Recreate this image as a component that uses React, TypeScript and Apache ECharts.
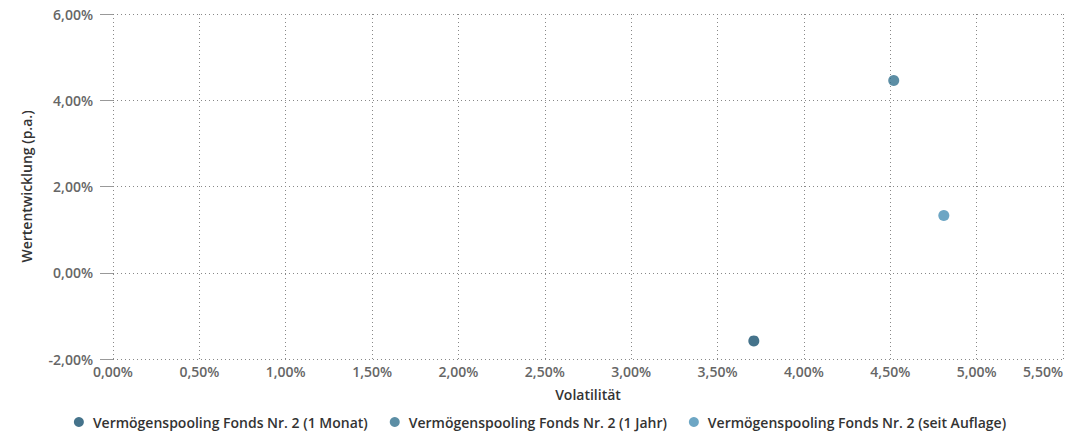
import React, { useEffect, useRef } from "react";
import * as echarts from "echarts";

const seriesNames = [
  "Vermögenspooling Fonds Nr. 2 (1 Monat)",
  "Vermögenspooling Fonds Nr. 2 (1 Jahr)",
  "Vermögenspooling Fonds Nr. 2 (seit Auflage)",
];
const volatility = [3.71, 4.52, 4.81];
const performance = [-1.58, 4.46, 1.33];
const colors = ["#17506e", "#33728f", "#4890b5"];

const fmt = (v: number) => v.toFixed(2).replace(".", ",") + "%";
const FONT = "Open Sans";

export default function App() {
  const ref = useRef<HTMLDivElement>(null);
  useEffect(() => {
    document.body.style.margin = "0";
    if (!ref.current) return;
    const chart = echarts.init(ref.current, undefined, { renderer: "svg" });
    chart.setOption({
      animation: false,
      textStyle: { fontFamily: FONT },
      grid: { left: 113, right: 17, top: 14, bottom: 78 },
      legend: {
        top: 410,
        left: "center",
        icon: "circle",
        itemWidth: 10,
        itemHeight: 10,
        itemGap: 22,
        textStyle: { fontFamily: FONT, fontSize: 14, fontWeight: 600, color: "#333", padding: [0, 0, 0, 4] },
        data: seriesNames,
      },
      xAxis: {
        type: "value",
        min: 0,
        max: 5.5,
        interval: 0.5,
        name: "Volatilität",
        nameLocation: "middle",
        nameGap: 28,
        nameTextStyle: { fontFamily: FONT, fontSize: 14, fontWeight: 600, color: "#333" },
        axisLine: { show: false },
        axisTick: { show: false },
        axisLabel: {
          formatter: (v: number) => fmt(v),
          color: "#666",
          fontSize: 14,
          fontWeight: 600,
          fontFamily: FONT,
          margin: 5,
          alignMaxLabel: "right",
        },
        splitLine: { show: true, lineStyle: { type: [1, 3], color: "#888", width: 1 } },
      },
      yAxis: {
        type: "value",
        min: -2,
        max: 6,
        interval: 2,
        name: "Wertentwicklung (p.a.)",
        nameLocation: "middle",
        nameRotate: 90,
        nameGap: 80,
        nameTextStyle: { fontFamily: FONT, fontSize: 14, fontWeight: 600, color: "#333" },
        axisLine: { show: false },
        axisTick: { show: true, length: 13, lineStyle: { color: "#999", width: 1 } },
        axisLabel: {
          formatter: (v: number) => fmt(v),
          color: "#666",
          fontSize: 14,
          fontWeight: 600,
          fontFamily: FONT,
          margin: 20,
          padding: [4, 0, 0, 0],
        },
        splitLine: { show: true, lineStyle: { type: [1, 3], color: "#888", width: 1 } },
      },
      series: seriesNames.map((name, i) => ({
        name,
        type: "scatter",
        symbol: "circle",
        symbolSize: 11,
        itemStyle: { color: colors[i] },
        data: [[volatility[i], performance[i]]],
      })),
    });
    return () => chart.dispose();
  }, []);
  return <div ref={ref} style={{ width: 1080, height: 437 }} />;
}
